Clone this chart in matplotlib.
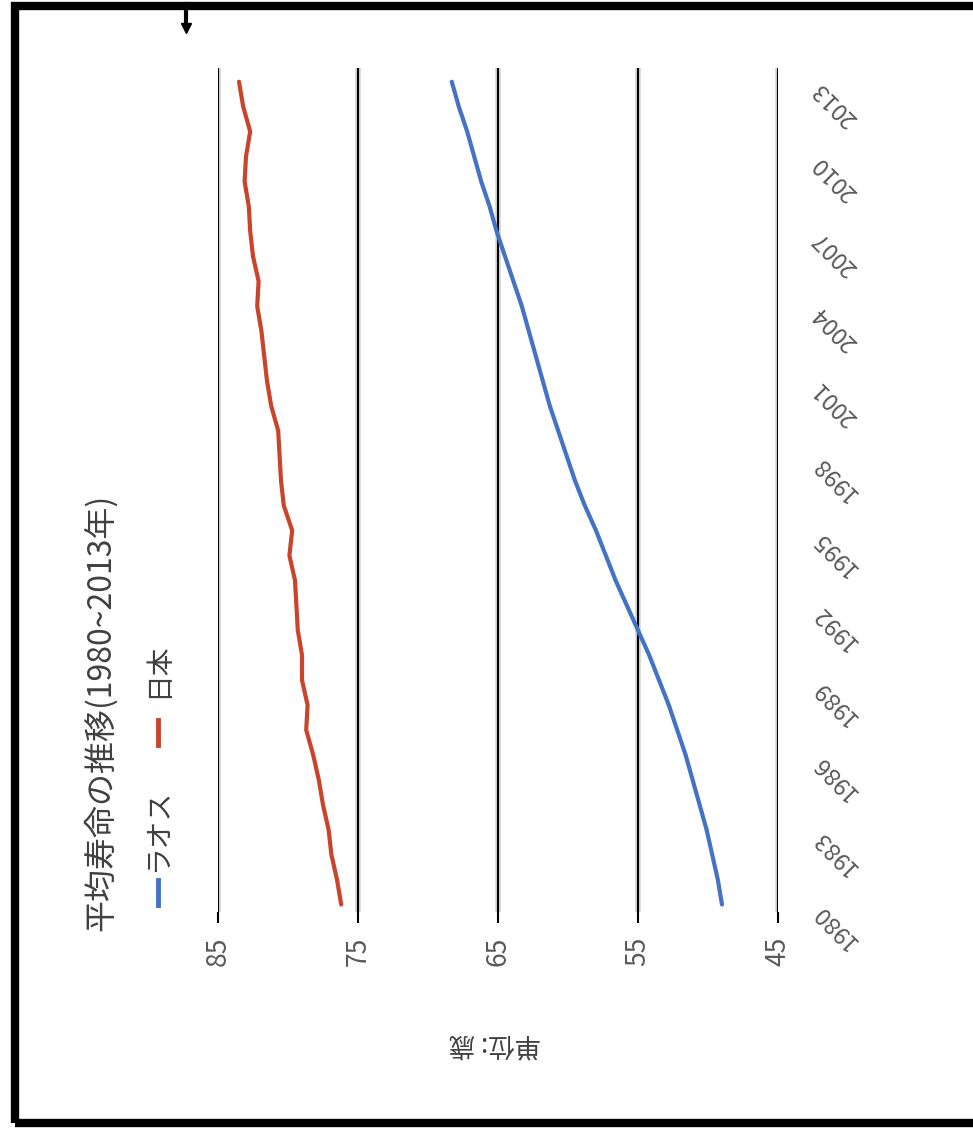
import matplotlib
matplotlib.use('Agg')
import matplotlib.pyplot as plt
from matplotlib import transforms
from matplotlib.lines import Line2D
from matplotlib.patches import Rectangle

# ---- data ----
years = list(range(1980, 2014))
laos = [49.0, 49.3, 49.7, 50.1, 50.6, 51.1, 51.6, 52.2, 52.8, 53.5,
        54.2, 55.0, 55.8, 56.6, 57.3, 58.0, 58.8, 59.5, 60.1, 60.7,
        61.3, 61.8, 62.3, 62.8, 63.3, 63.9, 64.5, 65.1, 65.6, 66.2,
        66.7, 67.2, 67.8, 68.3]
japan = [76.2, 76.5, 76.9, 77.1, 77.5, 77.8, 78.2, 78.7, 78.6, 79.0,
         79.0, 79.3, 79.4, 79.5, 79.9, 79.7, 80.3, 80.5, 80.6, 80.7,
         81.2, 81.5, 81.7, 81.9, 82.2, 82.1, 82.5, 82.7, 82.8, 83.1,
         83.0, 82.7, 83.2, 83.5]
value_ticks = [85, 75, 65, 55, 45]
year_ticks = list(range(1980, 2014, 3))
series_names = ['ラオス', '日本']
series_colors = ['#4472C4', '#C9442B']
title = '平均寿命の推移(1980~2013年)'
unit_label = '単位: 歳'

plt.rcParams['font.family'] = ['Noto Sans CJK JP', 'DejaVu Sans']

W, H = 973, 1128
fig = plt.figure(figsize=(W / 100, H / 100), dpi=100)
fig.patch.set_facecolor('white')

ax = fig.add_axes([218 / W, 1 - 912 / H, (778 - 218) / W, (912 - 68) / H])
ax.set_xlim(85, 45)
ax.set_ylim(1979.7, 2013.55)
for s in ax.spines.values():
    s.set_visible(False)

ax.set_xticks(value_ticks)
ax.set_xticklabels([str(v) for v in value_ticks], rotation=90, fontsize=19, color='#595959')
ax.tick_params(axis='x', length=8, width=1.5, color='black', pad=10)
ax.set_yticks([])

# light grey halo under each black gridline
for v in value_ticks:
    ax.axvline(v, color='#d4d4d4', lw=4, zorder=0.3)
ax.xaxis.grid(True, color='black', lw=1.5)
ax.set_axisbelow(True)

# value on x (horizontal in the rotated picture), year on y
ax.plot(laos, years, color=series_colors[0], lw=3, solid_capstyle='round', zorder=3)
ax.plot(japan, years, color=series_colors[1], lw=3, solid_capstyle='round', zorder=3)

# year labels on the right (rotated)
blend = transforms.blended_transform_factory(ax.transAxes, ax.transData)
lab_tr = transforms.offset_copy(blend, fig=fig, x=57, y=-22, units='dots')
for yv in year_ticks:
    ax.text(1.0, yv, str(yv), transform=lab_tr, rotation=135, ha='center', va='center',
            fontsize=17, color='#595959')

# title
fig.text(100 / W, 1 - 712 / H, title, rotation=90, ha='center', va='center',
         fontsize=23, color='#404040')

# legend (manual, rotated)
fig.add_artist(Line2D([158 / W, 158 / W], [1 - 905 / H, 1 - 880 / H], color=series_colors[0], lw=3.5))
fig.text(158 / W, 1 - 830 / H, series_names[0], rotation=90, ha='center', va='center',
         fontsize=20, color='#404040')
fig.add_artist(Line2D([158 / W, 158 / W], [1 - 745 / H, 1 - 720 / H], color=series_colors[1], lw=3.5))
fig.text(158 / W, 1 - 670 / H, series_names[1], rotation=90, ha='center', va='center',
         fontsize=20, color='#404040')

# unit label (upside down)
fig.text(495 / W, 1 - 1044 / H, unit_label, rotation=180, ha='center', va='center',
         fontsize=19, color='#404040')

# frame
fig.patches.append(Rectangle((15 / W, 1 - 1123 / H), 2, (1123 - 6) / H, transform=fig.transFigure,
                             fill=False, ec='black', lw=6))
fig.add_artist(Line2D([186 / W, 186 / W], [1 - 4 / H, 1 - 26 / H], color='black', lw=3))
fig.add_artist(Line2D([186 / W], [1 - 28 / H], marker='v', markersize=7, color='black'))

fig.savefig('out.png', dpi=100)
